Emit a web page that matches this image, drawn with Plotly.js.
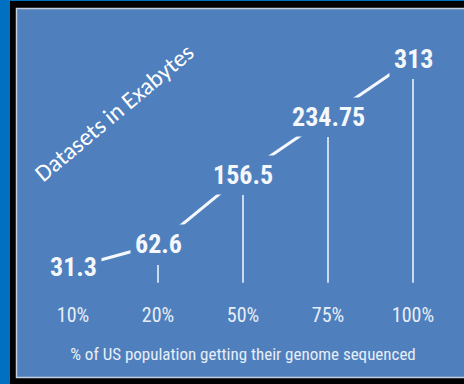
<!DOCTYPE html>
<html>
<head>
<meta charset="utf-8">
<script src="https://cdn.plot.ly/plotly-3.0.1.min.js"></script>
<style>
  html, body { margin: 0; padding: 0; background: #0070c0; }
  #chart { width: 464px; height: 384px; }
</style>
</head>
<body>
<div id="chart"></div>
<script>
// ---- data ----
const categories = ['10%', '20%', '50%', '75%', '100%'];
const values = [31.3, 62.6, 156.5, 234.75, 313];
const valueLabels = ['31.3', '62.6', '156.5', '234.75', '313'];
const xTitle = '% of US population getting their genome sequenced';
const sideTitle = 'Datasets in Exabytes';

// ---- styles ----
const panelColor = '#4f80bd';
const textColor = '#f4f7fb';
const cond = '"Roboto Condensed", "Open Sans Condensed", "DejaVu Sans Condensed", sans-serif';

const W = 464, H = 384;

const traces = [
  {
    type: 'bar',
    x: categories,
    y: values,
    width: 0.018,
    marker: { color: 'rgba(225,234,246,0.85)', line: { width: 0 } },
    yaxis: 'y',
    hoverinfo: 'skip',
    showlegend: false
  },
  {
    type: 'scatter',
    mode: 'lines',
    x: categories,
    y: values,
    yaxis: 'y2',
    line: { color: textColor, width: 3 },
    hoverinfo: 'skip',
    showlegend: false
  }
];

const annotations = categories.map((c, i) => ({
  x: c,
  y: values[i],
  xref: 'x',
  yref: 'y2',
  xanchor: 'center',
  yanchor: 'middle',
  text: '<b>' + valueLabels[i] + '</b>',
  showarrow: false,
  font: { family: cond, size: 26, color: textColor },
  bgcolor: panelColor,
  borderpad: 4
}));

annotations.push({
  xref: 'paper', yref: 'paper',
  x: 114 / W, y: 1 - 113 / H,
  xanchor: 'center', yanchor: 'middle',
  text: sideTitle,
  textangle: -40,
  showarrow: false,
  font: { family: 'Carlito, "Open Sans", sans-serif', size: 24, color: '#ffffff' }
});

const layout = {
  width: W,
  height: H,
  margin: { l: 0, r: 0, t: 0, b: 0, pad: 0 },
  paper_bgcolor: '#0070c0',
  plot_bgcolor: 'rgba(0,0,0,0)',
  showlegend: false,
  bargap: 0,
  shapes: [
    { type: 'rect', xref: 'paper', yref: 'paper', layer: 'below',
      x0: 10 / W, x1: 1.01, y0: -0.01, y1: 1 - 1 / H,
      fillcolor: '#000000', line: { width: 0 } },
    { type: 'rect', xref: 'paper', yref: 'paper', layer: 'below',
      x0: 16.5 / W, x1: 1.01, y0: 1 - 377.5 / H, y1: 1 - 8.5 / H,
      fillcolor: panelColor, line: { color: '#c3cddd', width: 1.5 } }
  ],
  xaxis: {
    type: 'category',
    range: [-0.5, 4.5],
    domain: [30.5 / W, 455.5 / W],
    showgrid: false, zeroline: false, showline: false,
    ticks: 'outside', ticklen: 14, tickcolor: 'rgba(0,0,0,0)',
    tickfont: { family: cond, size: 20, color: '#e8eef7' },
    title: { text: xTitle, font: { family: cond, size: 17, color: '#e8eef7' }, standoff: 22 },
    fixedrange: true
  },
  yaxis: {
    range: [38, 380],
    domain: [1 - 282.8 / H, 1 - 29.4 / H],
    visible: false,
    fixedrange: true
  },
  yaxis2: {
    range: [10.6, 352.6],
    domain: [1 - 282.8 / H, 1 - 29.4 / H],
    overlaying: 'y',
    visible: false,
    fixedrange: true
  },
  annotations: annotations
};

Plotly.newPlot('chart', traces, layout, { displayModeBar: false, staticPlot: true });
</script>
</body>
</html>
